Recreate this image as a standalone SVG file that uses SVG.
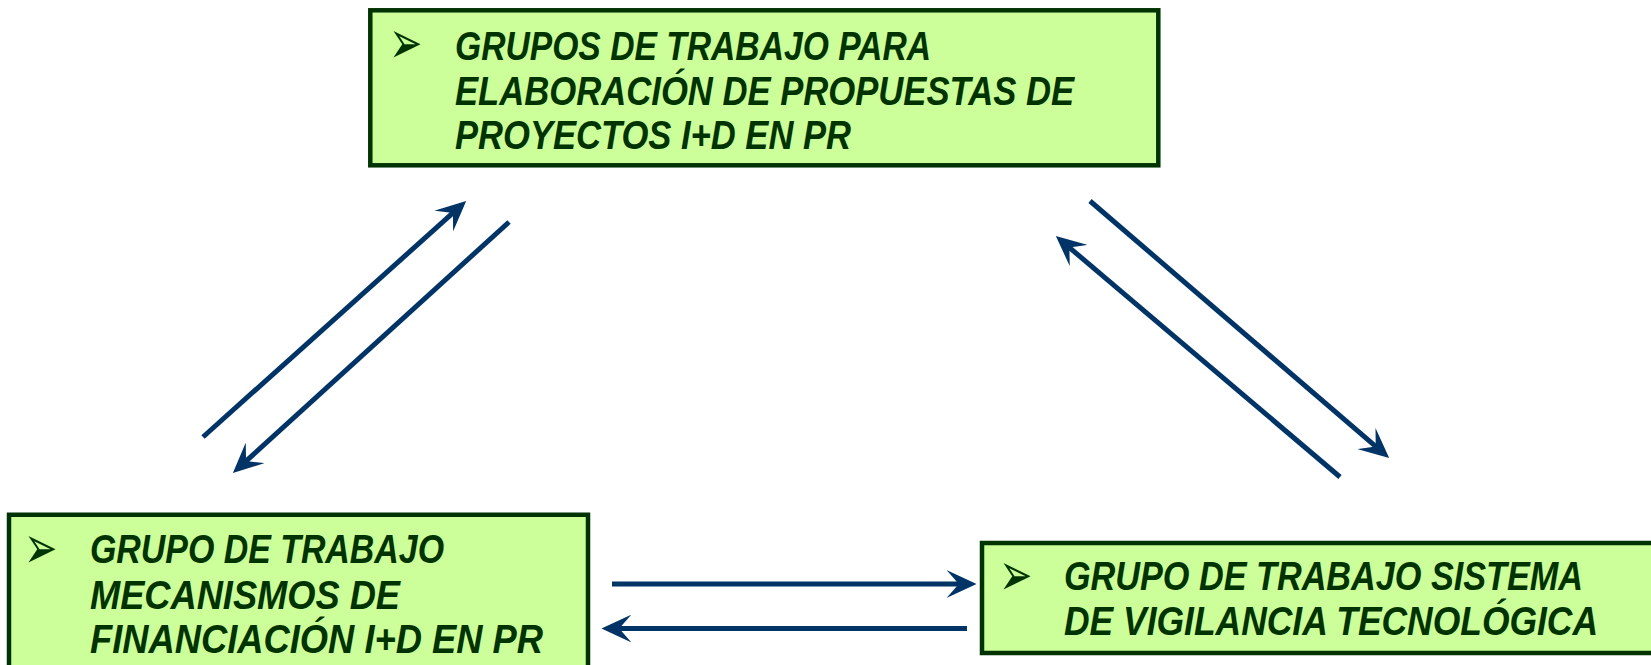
<svg xmlns="http://www.w3.org/2000/svg" width="1651" height="665" viewBox="0 0 1651 665">
<style>
.box{fill:#CCFF99;stroke:#003300;stroke-width:4.5}
.fill{fill:#CCFF99}
.edge{fill:none;stroke:#003300;stroke-width:4.5}
.t{font-family:"Liberation Sans",Arial,sans-serif;font-weight:bold;font-style:italic;font-size:40px;fill:#003300}
.b{font-family:"DejaVu Sans",sans-serif;font-size:40px;fill:#003300}
.c{stroke:#003366;stroke-width:5;fill:none;marker-end:url(#ah)}
</style>
<defs>
<marker id="ah" markerUnits="userSpaceOnUse" markerWidth="30" markerHeight="28" viewBox="0 0 27 25" refX="13" refY="12.5" orient="auto">
<path d="M0,0 L27,12.5 L0,25 L11,12.5 Z" fill="#003366"/>
</marker>
</defs>
<rect width="1651" height="665" fill="#ffffff"/>
<g id="node-top">
<rect class="box" x="370.3" y="10.3" width="788" height="155"/>
<text class="b" transform="translate(389,63) scale(1,1.5)">➢</text>
<text class="t" x="455" y="60" textLength="476" lengthAdjust="spacingAndGlyphs">GRUPOS DE TRABAJO PARA</text>
<text class="t" x="455" y="104.5" textLength="619" lengthAdjust="spacingAndGlyphs">ELABORACIÓN DE PROPUESTAS DE</text>
<text class="t" x="455" y="149" textLength="396" lengthAdjust="spacingAndGlyphs">PROYECTOS I+D EN PR</text>
</g>
<g id="node-left">
<rect class="fill" x="9" y="514.7" width="579" height="150.3"/>
<path class="edge" d="M9,665 V514.7 H588 V665"/>
<text class="b" transform="translate(24,568) scale(1,1.5)">➢</text>
<text class="t" x="90" y="563" textLength="354" lengthAdjust="spacingAndGlyphs">GRUPO DE TRABAJO</text>
<text class="t" x="90" y="608.5" textLength="310" lengthAdjust="spacingAndGlyphs">MECANISMOS DE</text>
<text class="t" x="90" y="653" textLength="453" lengthAdjust="spacingAndGlyphs">FINANCIACIÓN I+D EN PR</text>
</g>
<g id="node-right">
<rect class="fill" x="982" y="543" width="669" height="110"/>
<path class="edge" d="M1651,543 H982 V653 H1651"/>
<text class="b" transform="translate(999,595) scale(1,1.5)">➢</text>
<text class="t" transform="translate(1064,589.5) scale(0.87,1)" x="0" y="0" textLength="596.6" lengthAdjust="spacingAndGlyphs">GRUPO DE TRABAJO SISTEMA</text>
<text class="t" transform="translate(1064,635) scale(0.87,1)" x="0" y="0" textLength="613.8" lengthAdjust="spacingAndGlyphs">DE VIGILANCIA TECNOLÓGICA</text>
</g>
<g id="connectors">
<line class="c" x1="203" y1="437" x2="454.6" y2="211.4"/>
<line class="c" x1="509" y1="222" x2="244.4" y2="462.6"/>
<line class="c" x1="1090" y1="201" x2="1377.4" y2="447.9"/>
<line class="c" x1="1340" y1="477" x2="1067.7" y2="246.1"/>
<line class="c" x1="612" y1="584" x2="961" y2="584"/>
<line class="c" x1="967" y1="628.5" x2="617" y2="628.5"/>
</g>
</svg>
